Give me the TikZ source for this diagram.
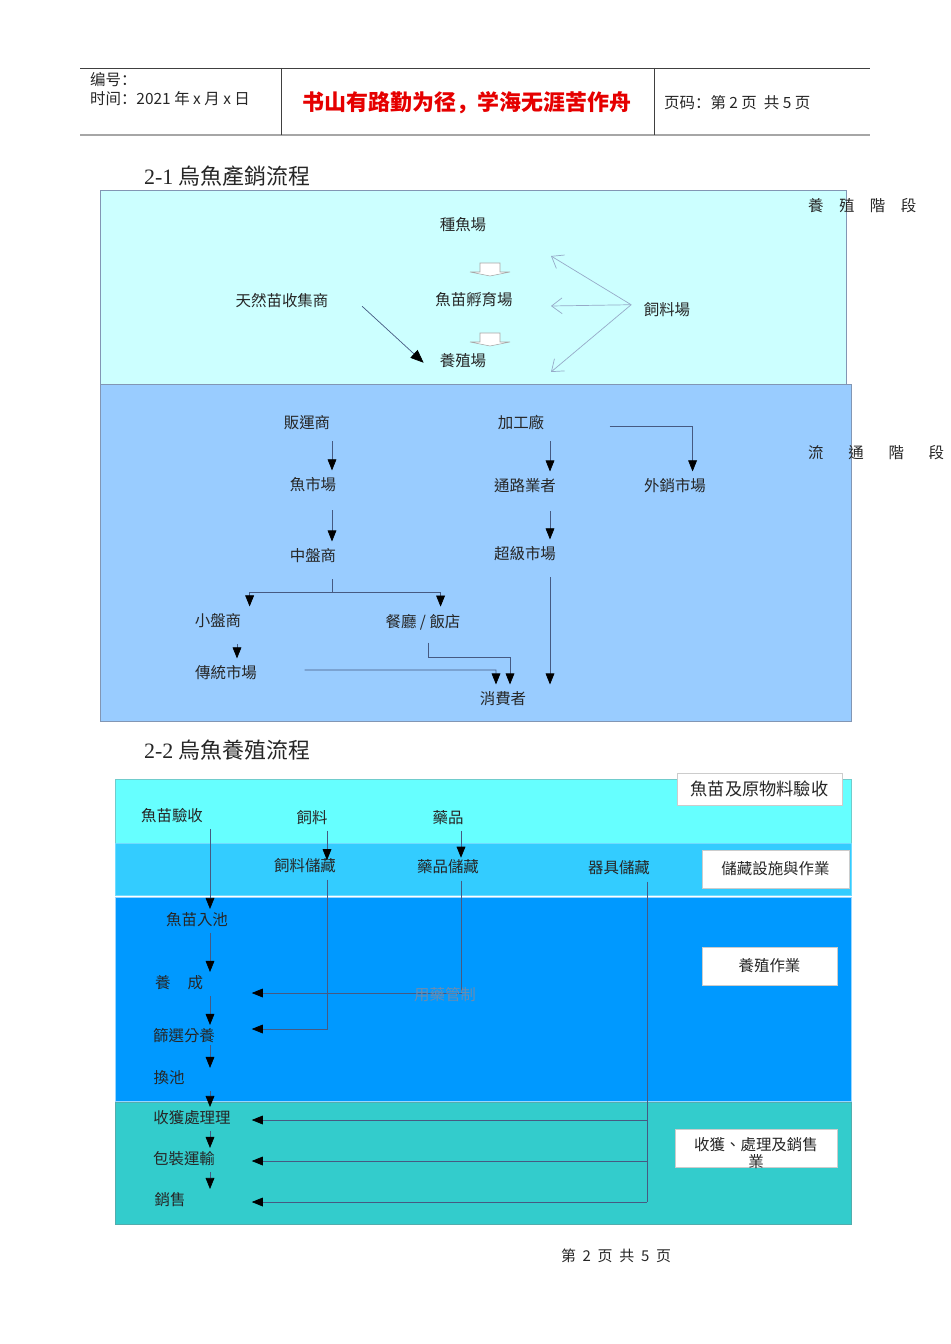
\documentclass[tikz,border=0pt]{standalone}
\usepackage{fontspec}
\setmainfont{Noto Sans CJK TC}
\newfontfamily\jianti{Noto Sans CJK SC}
\newfontfamily\serifl{Liberation Serif}
\usetikzlibrary{arrows.meta}
\definecolor{conn}{RGB}{70,90,130}
\definecolor{feedc}{RGB}{150,170,200}
\definecolor{edge}{RGB}{130,150,180}
\definecolor{secA}{RGB}{204,255,255}
\definecolor{secB}{RGB}{153,204,255}
\definecolor{bandA}{RGB}{102,255,255}
\definecolor{bandB}{RGB}{51,204,255}
\definecolor{bandC}{RGB}{0,153,255}
\definecolor{bandD}{RGB}{51,204,204}
\definecolor{ctrl}{RGB}{110,140,175}
\begin{document}
\begin{tikzpicture}[x=0.02cm,y=-0.02cm,
	lbl/.style={inner sep=1pt, text=black!85, font=\fontsize{8.8pt}{9.7pt}\selectfont},
	hd/.style={inner sep=1pt, text=black!85, font=\jianti\fontsize{8.8pt}{10pt}\selectfont},
	ttl/.style={inner sep=1pt, text=black!85, font=\fontsize{12.5pt}{14pt}\selectfont},
	arr/.style={draw=conn, line width=.4pt, -{Triangle[length=6.3pt,width=5pt,color=black]}, shorten <=5pt, shorten >=3pt},
	arr3/.style={arr, shorten <=2pt, shorten >=1pt},
	ln/.style={draw=conn, line width=.4pt},
	feed/.style={draw=feedc, line width=.4pt, -{Straight Barb[length=6pt,width=9pt]}},
	blk/.style={draw=gray!70, fill=white, line width=.3pt},
	wbox/.style={draw=gray!40, fill=white, inner sep=0pt, text=black!85, font=\fontsize{8.8pt}{9.7pt}\selectfont}]
	\useasboundingbox (0,0) rectangle (950,1344);
	% header
	\draw[black!75, line width=.5pt] (80,68) -- (870,68);
	\draw[gray!70, line width=1.2pt] (80,135) -- (870,135);
	\draw[black!75, line width=.5pt] (281,68) -- (281,135);
	\draw[black!75, line width=.5pt] (654,68) -- (654,135);
	\node[hd, anchor=west] (no) at (88,80) {编号：};
	\node[hd, anchor=west] (tm) at (88,99) {时间：2021 年 x 月 x 日};
	\node[inner sep=1pt, text=red!90!black, font=\jianti\bfseries\fontsize{12.5pt}{14pt}\selectfont] (motto) at (467,103) {书山有路勤为径，学海无涯苦作舟};
	\node[hd, anchor=west] (pg) at (662,103) {页码：第 2 页\ \ 共 5 页};
	% 2-1
	\node[ttl, anchor=west] (T1) at (142,176) {{\serifl 2-1} 烏魚產銷流程};
	\filldraw[fill=secA, draw=edge, line width=.4pt] (100,190) rectangle (846,384);
	\filldraw[fill=secB, draw=edge, line width=.4pt] (100,384) rectangle (851,721);
	\node[lbl, anchor=west] (S1) at (806,206) {養\quad 殖\quad 階\quad 段};
	\node[lbl, anchor=west] (S2) at (806,453) {流\hspace{1.6em}通\hspace{1.6em}階\hspace{1.6em}段};
	\node[lbl] (ZY) at (463,225) {種魚場};
	\node[lbl] (YM) at (474,300) {魚苗孵育場};
	\node[lbl] (YZ) at (463,361) {養殖場};
	\node[lbl] (TR) at (282,301) {天然苗收集商};
	\node[lbl] (SLC) at (667,310) {飼料場};
	\draw[blk] (480,263) -- ++(20,0) -- ++(0,9) -- ++(10,0) -- ++(-20,4) -- ++(-20,-4) -- ++(10,0) -- cycle;
	\draw[blk] (480,333) -- ++(20,0) -- ++(0,9) -- ++(10,0) -- ++(-20,4) -- ++(-20,-4) -- ++(10,0) -- cycle;
	\draw[arr, -{Triangle[length=7.5pt,width=6pt,color=black]}, shorten <=0pt, shorten >=0pt] ([xshift=18pt,yshift=-3pt]TR.east) -- ([xshift=-8pt,yshift=-1pt]YZ.west);
	\coordinate (fk) at ([xshift=-6pt,yshift=3pt]SLC.west);
	\coordinate (e1) at (551,256);
	\coordinate (e2) at (551,306);
	\coordinate (e3) at (551,372);
	\draw[feed] (fk) -- (e1);
	\draw[feed] (fk) -- (e2);
	\draw[feed] (fk) -- (e3);
	\node[lbl] (FY) at (307,423) {販運商};
	\node[lbl] (JG) at (521,423) {加工廠};
	\node[lbl] (YS) at (313,485) {魚市場};
	\node[lbl] (TL) at (525,486) {通路業者};
	\node[lbl] (WX) at (675,486) {外銷市場};
	\node[lbl] (ZP) at (313,556) {中盤商};
	\node[lbl] (CJ) at (525,554) {超級市場};
	\node[lbl] (XP) at (218,621) {小盤商};
	\node[lbl] (CT) at (423,622) {餐廳 / 飯店};
	\node[lbl] (CS) at (226,673) {傳統市場};
	\node[lbl] (XF) at (503,699) {消費者};
	\coordinate (c1) at (332,0);
	\coordinate (c2) at (550,0);
	\coordinate (c3) at (237,0);
	\coordinate (sp) at (332,592);
	\coordinate (b1) at (510,657);
	\coordinate (b2) at (496,670);
	\draw[arr] (FY.south -| c1) -- (YS.north -| c1);
	\draw[arr, shorten <=9pt] (YS.south -| c1) -- (ZP.north -| c1);
	\draw[arr] (JG.south -| c2) -- (TL.north -| c2);
	\draw[arr, shorten <=9pt] (TL.south -| c2) -- (CJ.north -| c2);
	\draw[arr, shorten <=8pt] (CJ.south -| c2) -- (XF.north -| c2);
	\draw[arr, shorten <=0pt] ([xshift=36pt,yshift=-2pt]JG.east) -| ([xshift=10pt]WX.north);
	\draw[ln, shorten <=8pt] (ZP.south -| c1) -- (sp);
	\draw[arr, shorten <=0pt] (sp) -| ([xshift=18pt]XP.north);
	\draw[arr, shorten <=0pt] (sp) -| ([xshift=10pt]CT.north);
	\draw[arr, shorten <=8pt] (XP.south -| c3) -- (CS.north -| c3);
	\draw[arr, shorten <=6pt] ([xshift=3pt]CT.south) |- (b1) -- (XF.north -| b1);
	\draw[arr, shorten <=0pt] ([xshift=26pt,yshift=1.7pt]CS.east) -- (b2) -- (XF.north -| b2);
	% 2-2
	\node[ttl, anchor=west] (T2) at (142,750) {{\serifl 2-2} 烏魚養殖流程};
	\filldraw[fill=bandA, draw=bandA!60!gray, line width=.4pt] (115,779) rectangle (851,843);
	\filldraw[fill=bandB, draw=bandB!70!white, line width=.4pt] (115,843) rectangle (851,895);
	\filldraw[fill=bandC, draw=bandC!40!white, line width=.4pt] (115,897) rectangle (851,1101);
	\filldraw[fill=bandD, draw=bandD!60!gray, line width=.4pt] (115,1102) rectangle (851,1224);
	\node[wbox, minimum width=3.3cm, minimum height=0.64cm, font=\fontsize{9.8pt}{11pt}\selectfont] (W1) at (759.5,789) {魚苗及原物料驗收};
	\node[wbox, minimum width=2.94cm, minimum height=0.76cm] (W2) at (775.5,869) {儲藏設施與作業};
	\node[wbox, minimum width=2.7cm, minimum height=0.76cm] (W3) at (769.5,966) {養殖作業};
	\node[wbox, minimum width=3.24cm, minimum height=0.76cm] (W4) at (756,1148) {};
	\node[lbl, align=center] (W4t) at (756,1153) {收獲、處理及銷售\\業};
	\node[lbl] (YY) at (172,816) {魚苗驗收};
	\node[lbl] (SL) at (312,818) {飼料};
	\node[lbl] (YP) at (448,818) {藥品};
	\node[lbl] (SC) at (305,866) {飼料儲藏};
	\node[lbl] (YC) at (448,867) {藥品儲藏};
	\node[lbl] (QC) at (619,868) {器具儲藏};
	\node[lbl] (RC) at (197,920) {魚苗入池};
	\node[lbl] (YCH) at (179,983) {養\hspace{1.1em}成};
	\node[lbl] (SX) at (184,1036) {篩選分養};
	\node[lbl] (HC) at (169,1078) {換池};
	\node[lbl] (SH) at (192,1118) {收獲處理理};
	\node[lbl] (BZ) at (184,1159) {包裝運輸};
	\node[lbl] (XS) at (170,1200) {銷售};
	\coordinate (k1) at (210,0);
	\coordinate (k2) at (327,0);
	\coordinate (k3) at (461,0);
	\coordinate (k4) at (647,0);
	\coordinate (tp) at (250,0);
	\coordinate (f1) at (327,1029);
	\coordinate (f2) at (461,993);
	\coordinate (q1) at (647,1120);
	\coordinate (q2) at (647,1161);
	\coordinate (q3) at (647,1202);
	\draw[arr3] (YY.south -| k1) -- (RC.north -| k1);
	\draw[arr3] (RC.south -| k1) -- (YCH.north -| k1);
	\draw[arr3] (YCH.south -| k1) -- (SX.north -| k1);
	\draw[arr3, shorten <=0pt, shorten >=.5pt] (SX.south -| k1) -- (HC.north -| k1);
	\draw[arr3] (HC.south -| k1) -- (SH.north -| k1);
	\draw[arr3] (SH.south -| k1) -- (BZ.north -| k1);
	\draw[arr3] (BZ.south -| k1) -- (XS.north -| k1);
	\draw[arr3, shorten >=-2pt] (SL.south -| k2) -- (SC.north -| k2);
	\draw[arr3, shorten >=0pt] (YP.south -| k3) -- (YC.north -| k3);
	\draw[arr3, shorten <=2.5pt] (SC.south -| k2) -- (f1) -- (f1 -| tp);
	\draw[arr3, shorten <=2.5pt] (YC.south -| k3) -- (f2) -- (f2 -| tp);
	\draw[ln, shorten <=2.5pt] (QC.south -| k4) -- (q3);
	\draw[arr3, shorten <=0pt] (q1) -- (q1 -| tp);
	\draw[arr3, shorten <=0pt] (q2) -- (q2 -| tp);
	\draw[arr3, shorten <=0pt] (q3) -- (q3 -| tp);
	\node[lbl, text=ctrl] (GZ) at (445,995) {用藥管制};
	% footer
	\node[hd, font=\jianti\fontsize{8.5pt}{10pt}\selectfont] (ft) at (616,1256) {第\hspace{.45em}2\hspace{.45em}页\hspace{.45em}共\hspace{.45em}5\hspace{.45em}页};
\end{tikzpicture}
\end{document}
